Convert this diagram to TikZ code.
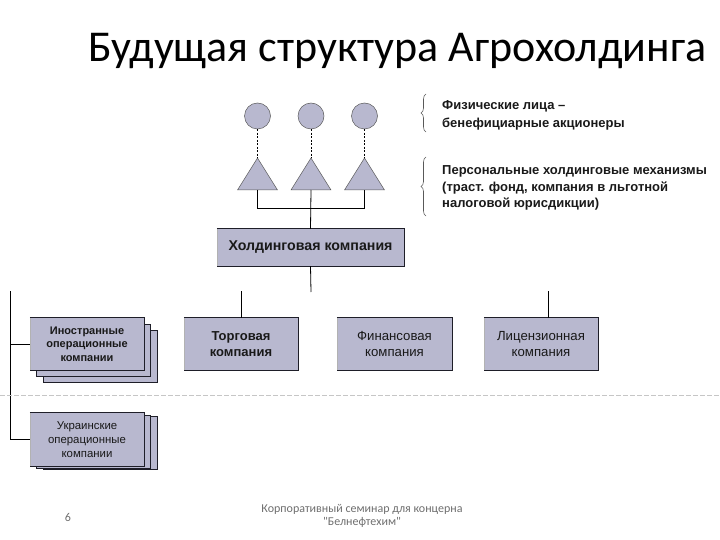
\documentclass[tikz,border=0pt]{standalone}
\usepackage{fontspec}
\setmainfont{Liberation Sans}
\newfontfamily\titlefont{Carlito}
\usetikzlibrary{decorations.pathreplacing}
\definecolor{boxfill}{RGB}{184,184,207}
\definecolor{boxline}{RGB}{30,30,40}
\definecolor{footgray}{RGB}{110,110,110}
\tikzset{
  cbox/.style={fill=boxfill, draw=none, inner sep=0pt, align=center,
    font=\bfseries\fontsize{13}{16}\selectfont, text=black!90},
  backbox/.style={fill=boxfill, draw=boxline, line width=0.8pt, inner sep=0pt},
  bedge/.style={draw=boxline, line width=0.9pt},
  ledge/.style={draw=gray!60, line width=0.6pt},
  person/.style={circle, fill=boxfill, draw=gray!70!black, line width=0.5pt, minimum size=26pt, inner sep=0pt},
  tri/.style={fill=boxfill, draw=gray!70!black, line width=0.5pt},
  conn/.style={draw=black, line width=0.8pt},
  dconn/.style={draw=black, line width=0.7pt, dash pattern=on 2pt off 1.5pt},
  bracestyle/.style={draw=gray!70!black, line width=0.6pt, decorate, decoration={brace, amplitude=5pt}},
  note/.style={anchor=west, align=left, inner sep=0pt, font=\bfseries\fontsize{13}{16.5}\selectfont, text=black!90},
  foot/.style={font=\titlefont\fontsize{12}{13}\selectfont, text=footgray, align=center, inner sep=0pt}
}
\begin{document}
\begin{tikzpicture}[x=1pt,y=-1pt]
\useasboundingbox (0,0) rectangle (720,540);
% title
\node[anchor=base west, inner sep=0pt, font=\titlefont\fontsize{44}{48}\selectfont] (title) at (88,62) {Будущая структура Агрохолдинга};

% persons and triangles
\foreach \i/\cx in {1/257.5,2/311,3/364.5}{
  \node[person] (p\i) at (\cx,116) {};
  \coordinate (apex\i) at (\cx,158);
  \coordinate (base\i) at (\cx,190);
  \draw[tri] (\cx-20,190) -- (apex\i) -- (\cx+20,190) -- cycle;
  \draw[dconn] (p\i.south) -- (apex\i);
}

% holding company
\node[cbox, minimum width=187pt, minimum height=37pt, font=\bfseries\fontsize{14.2}{16}\selectfont] (hold) at (310.5,247.5) {Холдинговая компания};

% lower boxes
\node[cbox, minimum width=114pt, minimum height=52pt] (trade) at (241,344) {Торговая\\компания};
\node[cbox, minimum width=115pt, minimum height=52pt, font=\fontsize{13.2}{16}\selectfont] (fin) at (394.5,344) {Финансовая\\компания};
\node[cbox, minimum width=114pt, minimum height=52pt, font=\fontsize{13.2}{16}\selectfont] (lic) at (541,344) {Лицензионная\\компания};

% foreign stack
\node[backbox, minimum width=114pt, minimum height=52pt] (for3) at (100,356) {};
\node[backbox, minimum width=114pt, minimum height=52pt] (for2) at (93.5,350) {};
\node[cbox, minimum width=114pt, minimum height=52pt, font=\bfseries\fontsize{11}{13.5}\selectfont] (for) at (87,344) {Иностранные\\операционные\\компании};

% ukrainian stack
\node[backbox, minimum width=114pt, minimum height=53pt] (ukr3) at (100,443) {};
\node[backbox, minimum width=114pt, minimum height=53pt] (ukr2) at (93.5,442) {};
\node[cbox, minimum width=114pt, minimum height=53pt, font=\fontsize{11.4}{14}\selectfont] (ukr) at (87,439.5) {Украинские\\операционные\\компании};

% box edges
\foreach \n in {hold,trade,fin,lic,for,ukr}{
  \draw[bedge] (\n.north west) -- (\n.north east) -- (\n.south east) -- (\n.south west);
  \draw[ledge] (\n.south west) -- (\n.north west);
}

% connectors: triangles to holding
\draw[conn] (base1) -- ++(0,18) -| (base3);
\draw[conn] (base2) -- (hold.north);
% holding downward
\coordinate (hb) at (311,292);
\draw[conn] (hold.south) -- (hb);
\coordinate (tt) at (241,291);
\draw[conn] (tt) -- (trade.north);
\coordinate (lt) at (548,291);
\draw[conn] (lt) -- (lt |- lic.north);
% left bus
\coordinate (lb) at (10,291);
\draw[conn] (lb) -- (lb |- ukr.west) -- (ukr.west);
\draw[conn] (lb |- for.west) -- (for.west);

% dashed separator
\coordinate (sl) at (0,395);
\coordinate (sr) at (720,395);
\draw[draw=gray!45, line width=0.8pt, dash pattern=on 5pt off 2pt] (sl) -- (sr);

% braces and notes
\coordinate (b1s) at (426,132);
\coordinate (b1e) at (426,94);
\draw[bracestyle] (b1s) -- (b1e);
\node[note, font=\bfseries\fontsize{13}{18}\selectfont] (n1) at (442,115) {Физические лица –\\бенефициарные акционеры};
\coordinate (b2s) at (426,216);
\coordinate (b2e) at (426,157);
\draw[bracestyle] (b2s) -- (b2e);
\node[note] (n2) at (442,188) {Персональные холдинговые механизмы\\(траст. фонд, компания в льготной\\налоговой юрисдикции)};

% footer
\node[foot] (num) at (68,517) {6};
\node[foot] (ft) at (362,515.5) {Корпоративный семинар для концерна\\"Белнефтехим"};
\end{tikzpicture}
\end{document}
